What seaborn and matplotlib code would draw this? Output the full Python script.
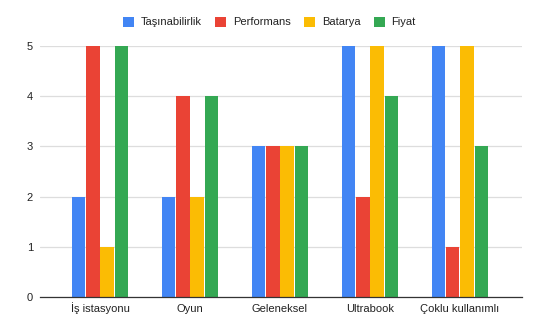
import matplotlib
matplotlib.use("Agg")
import matplotlib.pyplot as plt
import seaborn as sns
import pandas as pd

categories = ["İş istasyonu", "Oyun", "Geleneksel", "Ultrabook", "Çoklu kullanımlı"]
series = ["Taşınabilirlik", "Performans", "Batarya", "Fiyat"]
tasinabilirlik = [2, 2, 3, 5, 5]
performans = [5, 4, 3, 2, 1]
batarya = [1, 2, 3, 5, 5]
fiyat = [5, 4, 3, 4, 3]
colors = ["#4285F4", "#EA4335", "#FBBC04", "#34A853"]

rows = []
for name, vals in zip(series, [tasinabilirlik, performans, batarya, fiyat]):
    for c, v in zip(categories, vals):
        rows.append({"Kategori": c, "Seri": name, "Değer": v})
df = pd.DataFrame(rows)

sns.set_theme(style="white")
plt.rcParams["font.family"] = ["Liberation Sans", "DejaVu Sans"]

fig = plt.figure(figsize=(5.39, 3.33), dpi=100)
ax = fig.add_axes([40/539, 1-297/333, (522-40)/539, (297-46)/333])
sns.barplot(data=df, x="Kategori", y="Değer", hue="Seri", order=categories,
            hue_order=series, palette=colors, width=0.63, gap=0.06,
            saturation=1, linewidth=0, ax=ax, legend=True)
ax.set_xlim(-0.667, 4.69)
ax.set_ylim(0, 5)
ax.set_yticks([0, 1, 2, 3, 4, 5])
ax.grid(axis="y", color="#dddddd", linewidth=0.9)
ax.set_axisbelow(True)
for s in ["top", "right", "left"]:
    ax.spines[s].set_visible(False)
ax.spines["bottom"].set_color("#333333")
ax.spines["bottom"].set_linewidth(0.9)
ax.set_xlabel("")
ax.set_ylabel("")
ax.tick_params(axis="both", length=0, labelsize=8, labelcolor="#222222")
ax.tick_params(axis="y", pad=5)
ax.tick_params(axis="x", pad=10.5)
for lbl in ax.get_xticklabels():
    lbl.set_verticalalignment("baseline")

handles, labels = ax.get_legend_handles_labels()
ax.legend_.remove()
fig.legend(handles, labels, loc="center", bbox_to_anchor=(0.5, 1-22/333), ncol=4,
           frameon=False, fontsize=8, handlelength=1.0, handleheight=1.0,
           handletextpad=0.6, columnspacing=1.2, labelcolor="#222222")

fig.savefig("out.png", dpi=100)
